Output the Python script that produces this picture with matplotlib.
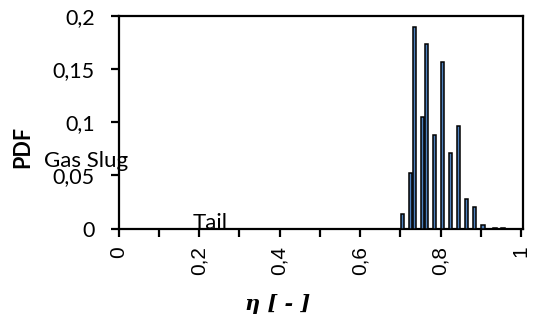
import matplotlib
matplotlib.use("Agg")
import matplotlib.pyplot as plt
from matplotlib.ticker import FixedLocator, FuncFormatter

# Data
eta_centers = [0.705, 0.725, 0.735, 0.755, 0.765, 0.785, 0.805, 0.825,
               0.845, 0.865, 0.885, 0.905, 0.935, 0.955]
pdf_values = [0.0141, 0.0518, 0.189, 0.1046, 0.1733, 0.0879, 0.1564, 0.0707,
              0.0966, 0.0282, 0.0198, 0.0035, 0.0007, 0.0007]
y_ticks = [0, 0.05, 0.1, 0.15, 0.2]
x_label_ticks = [0, 0.2, 0.4, 0.6, 0.8, 1.0]
x_minor_ticks = [0.1, 0.3, 0.5, 0.7, 0.9]

def comma(v, pos=None):
    s = ("%g" % v).replace(".", ",")
    return s

fig = plt.figure(figsize=(5.35, 3.2), dpi=100)
ax = fig.add_axes([0.2215, 0.2859, 0.757, 0.6651])

ax.bar(eta_centers, pdf_values, width=0.0085, color="#4F81BD",
       edgecolor="black", linewidth=1.1, zorder=3)

ax.set_xlim(0, 1.006)
ax.set_ylim(0, 0.2)

ax.yaxis.set_major_locator(FixedLocator(y_ticks))
ax.yaxis.set_major_formatter(FuncFormatter(comma))
ax.xaxis.set_major_locator(FixedLocator(x_label_ticks))
ax.xaxis.set_major_formatter(FuncFormatter(comma))
ax.xaxis.set_minor_locator(FixedLocator(x_minor_ticks))

for sp in ax.spines.values():
    sp.set_linewidth(1.6)

ax.tick_params(axis="y", which="major", direction="out", length=6, width=1.6,
               pad=11, labelsize=15.5)
ax.tick_params(axis="x", which="both", direction="out", length=5.5, width=1.6)
ax.tick_params(axis="x", which="major", pad=7, labelsize=15,
               labelrotation=90)

for lab in ax.get_yticklabels():
    lab.set_fontfamily("Lato")
for lab in ax.get_xticklabels():
    lab.set_fontfamily("Liberation Sans")

ax.set_ylabel("PDF", fontfamily="Lato", fontweight="bold", fontsize=15.5)
ax.yaxis.set_label_coords(-0.211, 0.383)

fig.text(0.518, 0.032, "η [ - ]", fontfamily="DejaVu Serif", fontstyle="italic",
         fontweight="bold", fontsize=15, ha="center", va="baseline")

ax.text(-0.185, 0.0577, "Gas Slug", fontfamily="Lato", fontsize=16,
        ha="left", va="baseline", clip_on=False)
ax.text(0.184, 0.0, "Tail", fontfamily="Lato", fontsize=16,
        ha="left", va="baseline", clip_on=False)

fig.savefig("out.png", dpi=100)
